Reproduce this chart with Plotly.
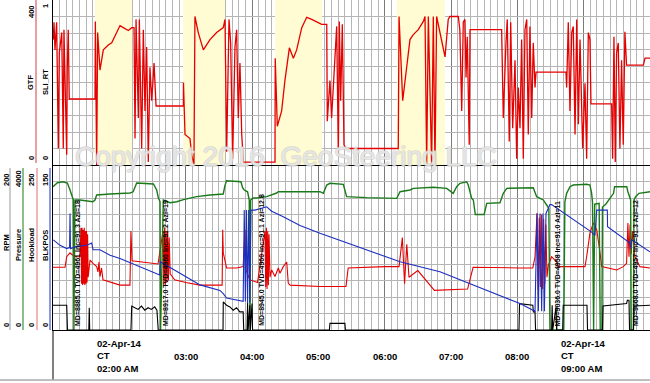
import pandas as pd
import plotly.graph_objects as go

BASE = pd.Timestamp("2014-04-02 01:00")
END_MIN = 540

def T(mins):
    return [BASE + pd.Timedelta(seconds=round(m * 60)) for m in mins]

# ---------------- top panel: GTF (0-400) ----------------
gtf_t = [0.3, 0.9, 1.8, 3.3, 4.8, 5.7, 7.9, 9.3, 9.9, 10.9, 12.4, 12.9, 13.8, 14.7, 38, 38.3, 39.5, 40.4, 42.5,
         45.5, 50, 53.1, 57.6, 60.6, 63.6, 68.1, 71.2, 73.3, 74.2, 75.1, 77.2, 78.1, 80.2, 81.7, 83.2, 84.7,
         86.2, 87.7, 89.3, 91.4, 93.2, 117.9, 118.0, 119.4, 123.9, 125.4, 127.5, 128.4, 131.4, 136, 142, 148,
         154, 155.6, 157.1, 159.2, 160.7, 162.5, 164.6, 166.1, 167.6, 169.1, 170.7, 172.2, 200.8, 201, 202.9,
         206.8, 209.8, 213.8, 217.4, 220.4, 225, 229.5, 234, 238.5, 243, 247.6, 248.1, 250.5, 252, 256.6,
         258.1, 259, 260.2, 261.7, 263.2, 265, 312.3, 313, 316.3, 319.9, 322.9, 325.9, 330.4, 335, 336.5, 338,
         339.5, 342.5, 344, 345.5, 347, 354.6, 357.5, 359, 366.6, 368, 369.7, 371.1, 372.6, 373.6, 374.7,
         376.5, 377.2, 405.8, 407.3, 409.7, 410.9, 412.7, 414, 415.8, 417.9, 419.4, 420.9, 422.4, 423.9,
         425.4, 426.9, 428.5, 429.9, 431.4, 433, 434.4, 436, 436.9, 464, 464.6, 466.1, 467.6, 469.2, 470.6,
         472.2, 473.7, 475.2, 476.7, 479.1, 481.2, 482.7, 484.2, 485.7, 486.6, 505.3, 506.2, 507.4, 508.6,
         509.8, 511.3, 512.8, 514.3, 515.8, 517.3, 518.8, 534, 535.5, 540]
gtf_v = [304, 346, 279, 346, 40, 272, 321, 40, 328, 230, 25, 237, 328, 160, 160, 348, 0, 321, 230,
         279, 291, 296, 321, 338, 333, 326, 333, 333, 64, 353, 114, 353, 40, 328, 131, 286,
         7, 237, 156, 247, 143, 143, 200, 74, 64, 25, 0, 360, 321, 279, 304, 321,
         333, 353, 32, 353, 296, 15, 286, 328, 114, 247, 74, 7, 7, 259, 94,
         131, 205, 284, 259, 279, 333, 358, 353, 346, 341, 341, 106, 205, 114, 336,
         25, 348, 156, 341, 49, 40, 40, 360, 156, 237, 304, 316, 328, 348, 360, 0,
         360, 0, 360, 0, 360, 262, 353, 360, 360, 328, 131, 346, 353, 212, 311,
         49, 328, 328, 114, 296, 353, 57, 346, 89, 254, 15, 188, 89, 304,
         15, 328, 353, 74, 336, 114, 296, 188, 225, 225, 188, 346, 131, 321, 336,
         74, 353, 99, 304, 40, 198, 15, 321, 304, 148, 148, 15, 311, 7,
         272, 296, 40, 254, 49, 323, 242, 242, 259, 259]

# sliding intervals (yellow)
slide_start = [38, 117.6, 200.8, 311.1]
slide_end = [71.5, 155.6, 243.3, 354.6]

# ---------------- bottom panel ----------------
pres_t = [0, 4, 9, 13, 15.4, 17, 18.4, 18.9, 19.9, 24.4, 30, 36, 38, 39.5, 51.6, 69.6, 72.5, 74.2, 75.7,
          90.8, 92.3, 93.8, 95.3, 96.8, 97.3, 99.8, 105.8, 112, 118, 124, 130, 142, 154, 155.5, 157, 170,
          171.5, 173, 176, 177.5, 178.2, 178.8, 181, 184, 193.3, 202.3, 203.8, 208.3, 223.4, 241.5, 244.5,
          247.6, 250.5, 262.6, 265.6, 283.7, 310.9, 313.9, 322.9, 325.9, 344, 356.1, 362, 365.1, 368.1,
          374.2, 375.6, 377.2, 378.7, 380.2, 382, 390, 392.3, 404.3, 407.3, 410.4, 434.4, 437.5, 443.5,
          446.5, 448.5, 449.5, 462, 463, 464.6, 467.6, 470.6, 482.7, 485.7, 487.2, 488, 489, 490, 494,
          495, 496.5, 497, 500, 503, 507, 508, 519, 520, 521.5, 522.5, 523, 525, 525.5, 527, 530, 540]
pres_v = [3474, 3570, 3595, 3564, 3394, 3250, 3152, 0, 3152, 3152, 3130, 3110, 3152, 3273, 3297, 3321,
          3350, 3450, 3564, 3540, 3480, 3394, 3200, 3110, 0, 3152, 3086, 3110, 3160, 3200, 3232, 3273,
          3297, 3500, 3619, 3595, 3450, 3394, 3350, 3150, 0, 3150, 3200, 3200, 3232, 3321, 3353, 3353,
          3353, 3353, 3313, 3515, 3556, 3532, 3232, 3208, 3192, 3353, 3394, 3434, 3459, 3434, 3313, 3474,
          3556, 3595, 3515, 3313, 3192, 3152, 2800, 2800, 3071, 3086, 3313, 3434, 3450, 3232, 3152,
          3030, 2950, 0, 0, 3100, 3313, 3474, 3515, 3532, 3515, 3313, 3100, 0, 3050, 3070,
          0, 0, 2980, 3050, 3150, 3313, 3474, 3474, 3353, 3192, 3152, 0, 0, 3152, 3232, 3313, 3353]

hook_t = [0, 10.9, 12.4, 15.4, 17.2, 21.4, 24.4, 25.3, 25.8, 26.3, 26.8, 27.3, 27.8, 28.3, 28.8, 29.3,
          29.8, 30.3, 30.8, 31.3, 31.8, 33.5, 36.2, 39.5, 40.7, 41.6, 42.5, 43.9, 45.2, 51.6, 60.6, 69.6,
          70.5, 71.5, 80, 95, 99.5, 100.2, 100.9, 101.6, 102.3, 103, 103.7, 104.4, 105.1, 106, 110, 120,
          133, 153, 153.5, 154, 157, 166, 172, 173.7, 174.6, 178, 185, 191.8, 192.4, 193, 193.6, 194.2,
          194.8, 195.4, 196.3, 197.8, 200.8, 203.8, 205.3, 208.3, 211.4, 212.8, 214.4, 241.5, 265, 267,
          300, 313, 316, 318, 320, 322, 330, 345, 375, 380, 422, 434, 436, 437.8, 438.8, 439.8, 440.8,
          441.8, 442.8, 443.8, 444.8, 445.8, 446.8, 448, 451, 455.6, 457, 481.2, 482.7, 485.7, 488.7,
          491.8, 494.8, 496.3, 509.9, 515.8, 518.8, 520, 521, 522, 523, 524, 526.4, 530.9, 540]
hook_v = [95, 95, 111, 117, 114, 111, 111, 155, 70, 155, 68, 152, 70, 155, 68, 150,
          70, 150, 72, 145, 80, 106, 101, 96, 88, 103, 81, 94, 76, 73, 68, 68,
          150, 105, 103, 100, 150, 70, 155, 68, 150, 72, 150, 75, 140, 85, 76, 72,
          68, 68, 152, 117, 94, 94, 96, 152, 91, 76, 72, 150, 65, 155, 62, 150,
          68, 145, 80, 91, 81, 94, 86, 96, 103, 71, 68, 66, 66, 94,
          96, 96, 140, 70, 130, 80, 90, 60, 62, 95, 94, 94, 111, 177, 61, 170, 65,
          175, 62, 168, 70, 160, 80, 98, 111, 103, 96, 96, 111, 147, 162,
          152, 117, 96, 91, 96, 101, 162, 111, 160, 115, 150, 111, 96, 94]

blk_t = [0.3, 6.3, 12.4, 15, 15.4, 15.8, 21.4, 30.5, 35, 36.2, 42.5, 51.6, 60.6, 96.5, 97, 133, 151,
         154, 157, 172, 173, 174, 175, 176, 177, 178, 179, 182.7, 193.3, 197.8, 208.3, 223.4, 241.5,
         313.9, 350, 422.4, 436, 437.8, 439, 440.5, 442, 443.2, 444.5, 445.9, 449.5, 451, 487.2, 490.2,
         491.8, 501.4, 501.6, 521.9, 522.2, 523.4, 540]
blk_v = [82, 77, 74, 75, 106, 74, 76, 77, 79, 73, 73, 68, 65, 50, 62, 41, 36,
         33, 29, 26, 109, 26, 109, 24, 109, 25, 109, 109, 112, 108, 103, 95, 88,
         62, 53, 24, 17, 106, 17, 106, 17, 106, 17, 106, 114, 114, 89, 86,
         109, 109, 94, 79, 74, 82, 71]

rpm_t = [0, 12.4, 13.1, 32.4, 32.8, 33.2, 70.5, 71.2, 74, 77, 80, 83, 86, 89, 92, 94, 95.2, 153.8, 154,
         157, 160, 163, 166, 169, 172, 172.5, 175.5, 176, 176.5, 178, 178.5, 180, 180.5, 250, 250.5, 264,
         264.5, 421.5, 422, 434, 434.5, 436, 436.5, 451, 451.5, 452, 455, 455.5, 461, 461.5, 483, 483.5,
         497, 497.5, 518.8, 519.5, 521, 521.5, 525, 525.5, 540]
rpm_v = [30, 30, 0, 0, 27, 0, 0, 29, 27, 25, 29, 24, 27, 25, 28, 24, 0, 0, 34,
         30, 28, 24, 27, 22, 22, 0, 0, 33, 0, 30, 0, 32, 0, 0, 8, 8,
         0, 0, 32, 30, 22, 22, 0, 0, 30, 0, 28, 0, 0, 30, 30, 0,
         0, 29, 32, 36, 36, 0, 0, 29, 30]

survey_t = [21.7, 101.3, 188.0, 456.3, 526.4]
survey_text = ["MD=8885.0 TVD=4961 Inc=91.3 Azi=18",
               "MD=8917.0 TVD=4960 Inc=91.2 Azi=19",
               "MD=8945.0 TVD=4960 Inc=91.1 Azi=12.8",
               "MD=9036.0 TVD=4958 Inc=91.0 Azi=11",
               "MD=9068.0 TVD=4957 Inc=91.3 Azi=12"]

tick_min = [60, 120, 180, 240, 300, 360, 420, 480]
tick_text = ["02-Apr-14<br>CT<br>02:00 AM", "03:00", "04:00", "05:00", "06:00", "07:00", "08:00",
             "02-Apr-14<br>CT<br>09:00 AM"]

RED = "#e60000"
GREEN = "#1a7a1a"
BLUE = "#1c2fbf"
BLACK = "#000000"
FONT = "Liberation Sans"

fig = go.Figure()
for s, e in zip(slide_start, slide_end):
    xs = T([s, s, e, e, s])
    fig.add_trace(go.Scatter(x=xs, y=[0, 400, 400, 0, 0], xaxis="x2", yaxis="y2", mode="lines",
                             fill="toself", fillcolor="#fffbd2", line=dict(width=0), hoverinfo="skip"))
fig.add_trace(go.Scatter(x=T(hook_t), y=hook_v, xaxis="x", yaxis="y", mode="lines",
                         line=dict(color=RED, width=1.1)))
fig.add_trace(go.Scatter(x=T(pres_t), y=pres_v, xaxis="x", yaxis="y3", mode="lines",
                         line=dict(color=GREEN, width=1.4)))
fig.add_trace(go.Scatter(x=T(rpm_t), y=rpm_v, xaxis="x", yaxis="y4", mode="lines",
                         line=dict(color=BLACK, width=1.1)))
fig.add_trace(go.Scatter(x=T(blk_t), y=blk_v, xaxis="x", yaxis="y5", mode="lines",
                         line=dict(color=BLUE, width=1.1)))
fig.add_trace(go.Scatter(x=T(gtf_t), y=gtf_v, xaxis="x2", yaxis="y2", mode="lines",
                         line=dict(color=RED, width=1.3)))

xrange = [BASE, BASE + pd.Timedelta(minutes=END_MIN)]
xcommon = dict(type="date", range=xrange, showticklabels=False, ticks="",
               showgrid=True, gridcolor="#7a7a7a", gridwidth=1, dtick=3600000,
               tick0=BASE, zeroline=False, showline=True, linecolor="#000",
               minor=dict(dtick=360000, tick0=BASE, showgrid=True, gridcolor="#b5b5b5", gridwidth=1))
ycommon = dict(showticklabels=False, ticks="", zeroline=False, showgrid=True,
               gridcolor="#b5b5b5", gridwidth=1, showline=True, linecolor="#000", mirror=True)

shapes = [dict(type="line", xref="x2 domain", yref="y2", x0=0, x1=1, y0=200, y1=200,
               line=dict(color="#333", width=1), layer="below")]


def px_x(px):
    return (px - 53) / 597.0


def px_y(py):
    return (330 - py) / 330.0

for px, y0, y1, col in [(36, 0, 163, "#d04040"), (10, 168, 330, "#999999"), (23, 168, 330, GREEN),
                        (37, 168, 330, "#e07070"), (50, 168, 330, BLUE)]:
    shapes.append(dict(type="line", xref="paper", yref="paper", x0=px_x(px), x1=px_x(px),
                       y0=px_y(y0), y1=px_y(y1), line=dict(color=col, width=1)))
shapes.append(dict(type="line", xref="paper", yref="paper", x0=0, x1=0, y0=px_y(380), y1=0,
                   line=dict(color="#000", width=1)))
shapes.append(dict(type="line", xref="paper", yref="paper", x0=px_x(0), x1=1, y0=px_y(380),
                   y1=px_y(380), line=dict(color="#aaa", width=1.5)))

ann = []
lab_font = dict(family=FONT, size=7.5, color="#000")
for px, py, txt in [(31, 12, "<b>400</b>"), (31, 83, "<b>GTF</b>"), (31, 158, "<b>0</b>"),
                    (45, 6, "<b>1</b>"), (45, 82, "<b>SLI_RT</b>"), (45, 158, "<b>0</b>"),
                    (6, 180, "<b>200</b>"), (6, 243, "<b>RPM</b>"), (6, 325, "<b>0</b>"),
                    (18, 179, "<b>4000</b>"), (18, 245, "<b>Pressure</b>"), (18, 325, "<b>0</b>"),
                    (31, 180, "<b>250</b>"), (31, 245, "<b>Hookload</b>"), (31, 325, "<b>0</b>"),
                    (45, 180, "<b>150</b>"), (45, 246, "<b>BLKPOS</b>"), (45, 325, "<b>0</b>")]:
    ann.append(dict(xref="paper", yref="paper", x=px_x(px), y=px_y(py), text=txt, textangle=-90,
                    showarrow=False, font=lab_font, xanchor="center", yanchor="middle"))

for m, txt in zip(tick_min, tick_text):
    ann.append(dict(xref="x", yref="paper", x=T([m])[0], y=px_y(356), text="<b>" + txt + "</b>",
                    showarrow=False, align="left", xanchor="center", yanchor="middle",
                    font=dict(family=FONT, size=9.5, color="#000")))

for m, txt in zip(survey_t, survey_text):
    ann.append(dict(xref="x", yref="paper", x=T([m])[0], y=px_y(328), text="<b>" + txt + "</b>",
                    textangle=-90, showarrow=False, xanchor="center", yanchor="bottom",
                    font=dict(family=FONT, size=7, color="#000")))

ann.append(dict(xref="x", yref="paper", x=T([211])[0], y=px_y(157), text="Copyright 2016  GeoSteering LLC",
                showarrow=False, xanchor="center", yanchor="middle",
                font=dict(family=FONT, size=28, color="rgba(255,255,255,0.5)",
                          shadow="1px 0 #c8c8c8, -1px 0 #c8c8c8, 0 1px #c8c8c8, 0 -1px #c8c8c8")))

fig.update_layout(
    width=650, height=383, margin=dict(l=53, r=0, t=0, b=53),
    paper_bgcolor="#ffffff", plot_bgcolor="#ffffff", showlegend=False,
    xaxis=dict(domain=[0, 1], anchor="y", mirror=False, **xcommon),
    xaxis2=dict(domain=[0, 1], anchor="y2", matches="x", mirror=True, **xcommon),
    yaxis=dict(domain=[0, 0.5], range=[0, 250], dtick=25, **ycommon),
    yaxis2=dict(domain=[0.5, 1], range=[0, 400], dtick=40, **ycommon),
    yaxis3=dict(overlaying="y", range=[0, 4000], visible=False),
    yaxis4=dict(overlaying="y", range=[0, 200], visible=False),
    yaxis5=dict(overlaying="y", range=[0, 150], visible=False),
    shapes=shapes, annotations=ann,
)

fig.write_html("out.html", config={"displayModeBar": False},
               post_script="document.body.style.margin='0px';document.body.style.overflow='hidden';")
